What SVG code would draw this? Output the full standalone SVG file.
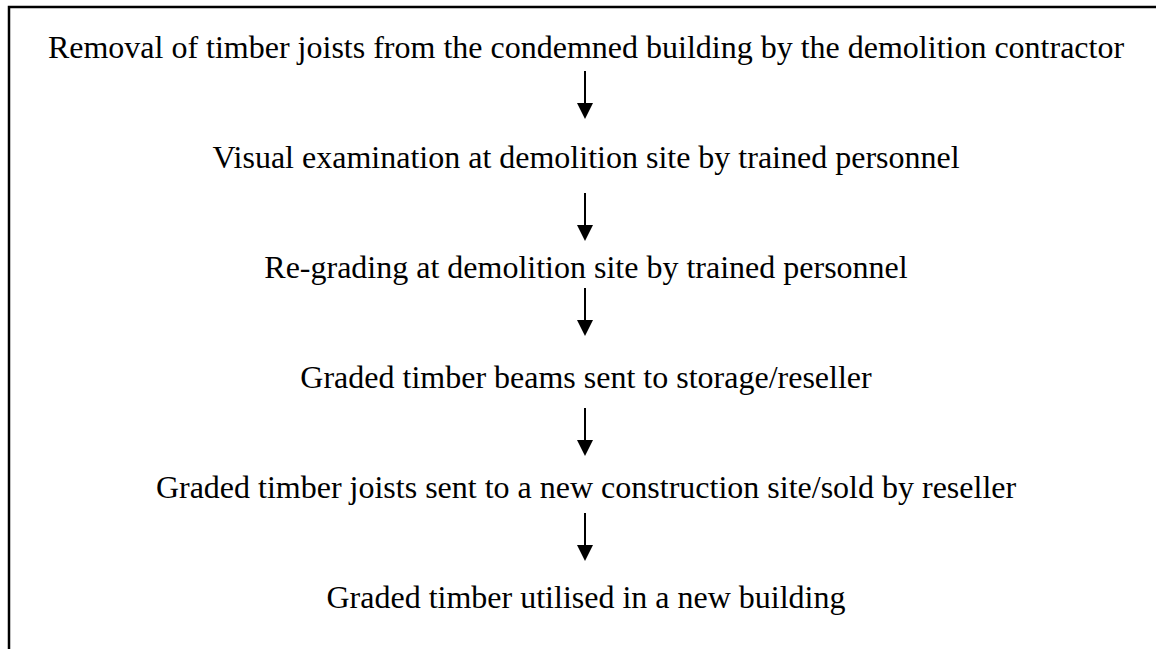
<svg xmlns="http://www.w3.org/2000/svg" width="1156" height="649" viewBox="0 0 1156 649">
<defs>
<style>
.t{font-family:"Liberation Serif","Times New Roman",serif;font-size:32px;fill:#000;text-anchor:middle}
.a{stroke:#000;stroke-width:2;fill:none}
.h{fill:#000}
.frame{stroke:#000;stroke-width:2.5;fill:none}
</style>
</defs>
<rect width="1156" height="649" fill="#fff"/>
<path class="frame" d="M9,649 V7 H1156"/>
<g id="n1"><text class="t" x="586" y="58">Removal of timber joists from the condemned building by the demolition contractor</text></g>
<g id="n2"><text class="t" x="586" y="168">Visual examination at demolition site by trained personnel</text></g>
<g id="n3"><text class="t" x="586" y="278">Re-grading at demolition site by trained personnel</text></g>
<g id="n4"><text class="t" x="586" y="388">Graded timber beams sent to storage/reseller</text></g>
<g id="n5"><text class="t" x="586" y="498">Graded timber joists sent to a new construction site/sold by reseller</text></g>
<g id="n6"><text class="t" x="586" y="608">Graded timber utilised in a new building</text></g>
<g id="connectors">
<path class="a" d="M585,71 V105"/><path class="h" d="M577,103 H593 L585,119 Z"/>
<path class="a" d="M585,193 V227"/><path class="h" d="M577,225 H593 L585,241 Z"/>
<path class="a" d="M585,288 V322"/><path class="h" d="M577,320 H593 L585,336 Z"/>
<path class="a" d="M585,408 V442"/><path class="h" d="M577,440 H593 L585,456 Z"/>
<path class="a" d="M585,513 V547"/><path class="h" d="M577,545 H593 L585,561 Z"/>
</g>
</svg>
